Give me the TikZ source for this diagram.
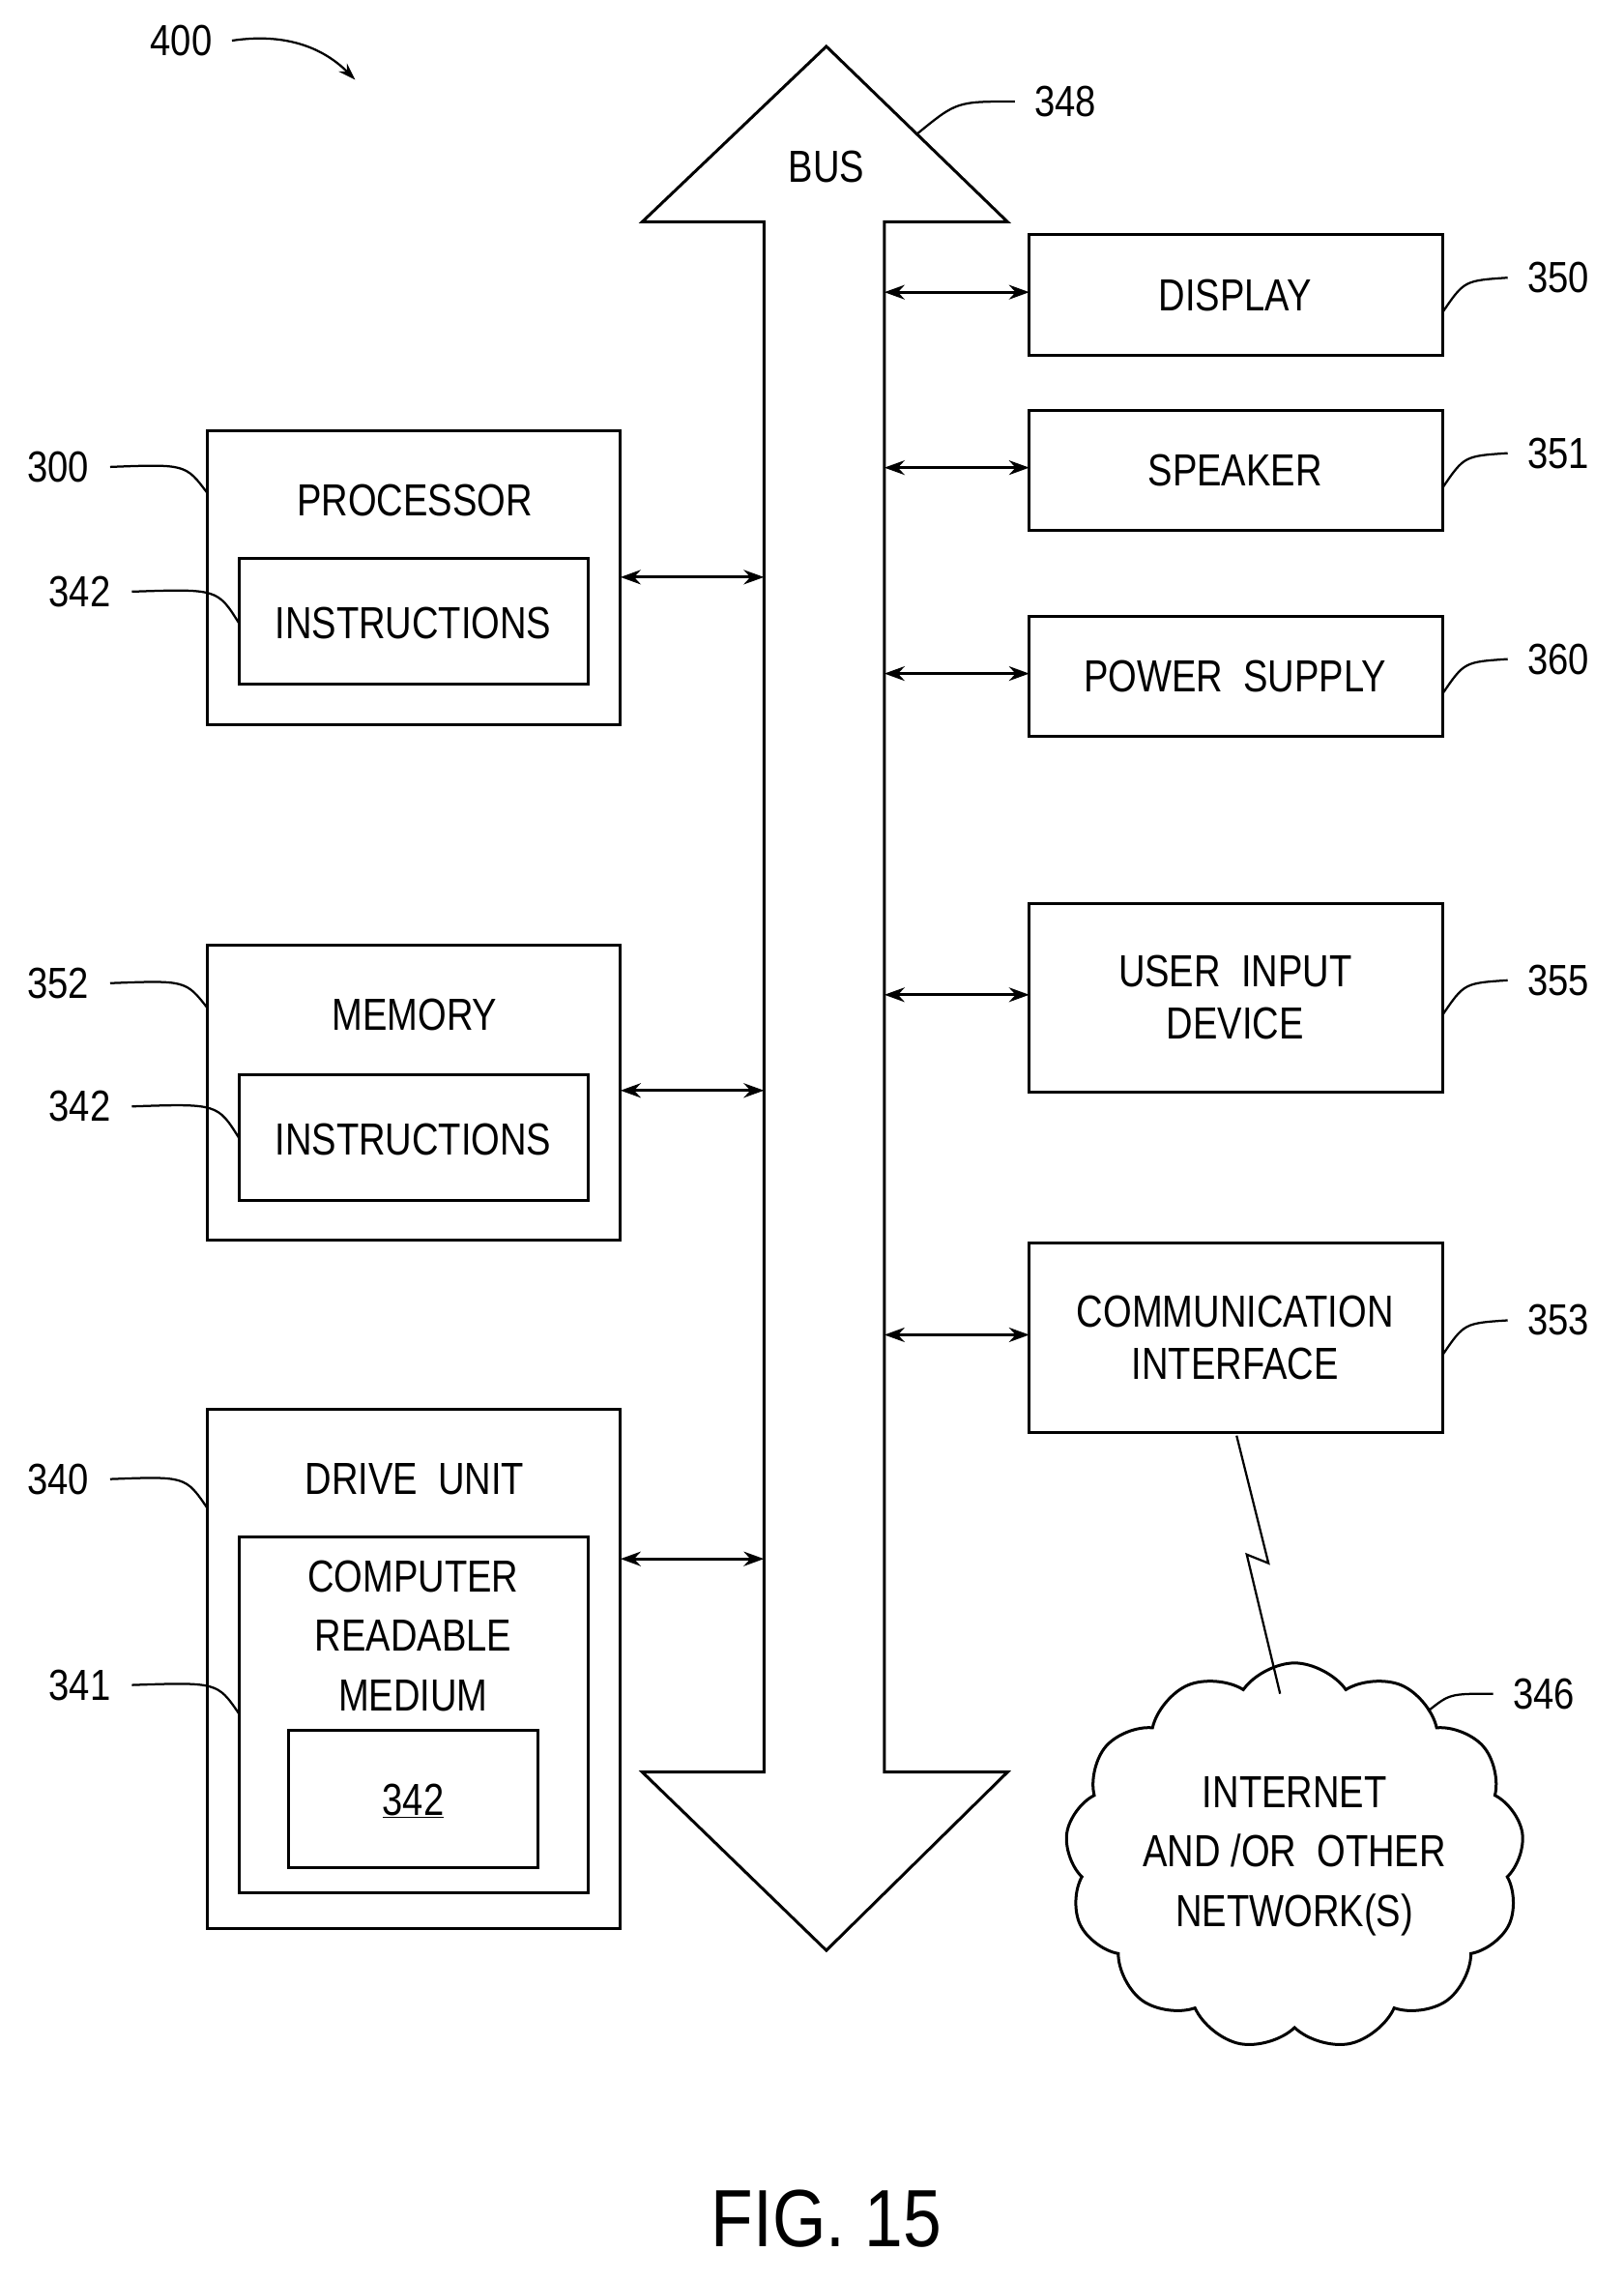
\documentclass[tikz,border=0pt]{standalone}
\usepackage{fontspec}
\setmainfont{Liberation Sans}
\usetikzlibrary{shapes.symbols,arrows.meta}
\begin{document}
\begin{tikzpicture}[x=1pt,y=-1pt,line width=2pt,
 txt/.style={font=\fontsize{31}{36}\selectfont\addfontfeature{FakeStretch=0.82},align=center},
 num/.style={font=\fontsize{30}{36}\selectfont\addfontfeature{FakeStretch=0.85}},
 arr/.style={{Stealth[length=14pt,width=10pt]}-{Stealth[length=14pt,width=10pt]}}]
\useasboundingbox (0,0) rectangle (1120,1573);
% bus
\draw[fill=white] (570,32) -- (695,153) -- (610,153) -- (610,1222) -- (695,1222) -- (570,1345) -- (443,1222) -- (527,1222) -- (527,153) -- (443,153) -- cycle;
\node[txt] (bus) at (570,115) {BUS};
\node[num] (n348) at (735,70) {348};
\draw[line width=1.5pt] (633,92) .. controls (660,70) .. (700,70);
\node[num] (n400) at (125,28) {400};
\draw[line width=1.5pt,-{Stealth[length=12pt,width=8pt]}] (160,28) .. controls (200,22) and (225,35) .. (245,55);
% right boxes
\foreach \n/\t/\b/\lab/\num in {disp/162/245/DISPLAY/350, spk/283/366/SPEAKER/351, pow/425/508/POWER\ \ SUPPLY/360, uid/623/753/USER\ \ INPUT\\DEVICE/355, com/857/988/COMMUNICATION\\INTERFACE/353}{
 \draw (710,\t) rectangle (995,\b);
 \node[txt] (\n) at (852,{(\t+\b)/2}) {\lab};
 \node[num] (l\n) at (1075,{(\t+\b)/2-12}) {\num};
 \draw[line width=1.5pt] (995,{(\t+\b)/2+12}) .. controls (1010,{(\t+\b)/2-10}) .. (1040,{(\t+\b)/2-12});
 \draw[arr] (610,{(\t+\b)/2-2}) -- (710,{(\t+\b)/2-2});
}
% left boxes
\draw (143,297) rectangle (428,500); \node[txt] (proc) at (286,345) {PROCESSOR};
\draw (165,385) rectangle (406,472); \node[txt] (pi) at (285,430) {INSTRUCTIONS};
\draw[arr] (428,398) -- (527,398);
\draw (143,652) rectangle (428,855); \node[txt] (mem) at (286,700) {MEMORY};
\draw (165,741) rectangle (406,828); \node[txt] (mi) at (285,786) {INSTRUCTIONS};
\draw[arr] (428,752) -- (527,752);
\draw (143,972) rectangle (428,1330); \node[txt] (drv) at (286,1020) {DRIVE\ \ UNIT};
\draw (165,1060) rectangle (406,1305); \node[txt,font=\fontsize{31}{41}\selectfont\addfontfeature{FakeStretch=0.82}] (crm) at (285,1128) {COMPUTER\\READABLE\\MEDIUM};
\draw (199,1193) rectangle (371,1288); \node[txt] (i342) at (285,1242) {\underline{342}};
\draw[arr] (428,1075) -- (527,1075);
\foreach \x/\y/\t/\bx/\by in {40/322/300/143/340, 55/408/342/165/430, 40/678/352/143/695, 55/763/342/165/785, 40/1020/340/143/1040, 55/1162/341/165/1182}{
 \node[num] at (\x,\y) {\t};
 \draw[line width=1.5pt] (\x+36,\y) .. controls (\bx-15,\y-2) .. (\bx,\by);
}
% cloud
\node[cloud,draw,cloud puffs=13,cloud puff arc=110,aspect=1.25,inner sep=0pt,minimum width=290pt,minimum height=225pt,txt,font=\fontsize{31}{41}\selectfont\addfontfeature{FakeStretch=0.82}] (net) at (893,1280) {INTERNET\\AND\ /OR\ \ OTHER\\NETWORK(S)};
\node[num] (n346) at (1065,1168) {346};
\draw[line width=1.5pt] (985,1180) .. controls (1000,1168) .. (1030,1168);
\draw[line width=1.5pt] (853,990) -- (875,1078) -- (860,1072) -- (883,1168);
\node[font=\fontsize{56}{66}\selectfont\addfontfeature{FakeStretch=0.85}] (fig) at (570,1530) {FIG. 15};
\end{tikzpicture}
\end{document}
